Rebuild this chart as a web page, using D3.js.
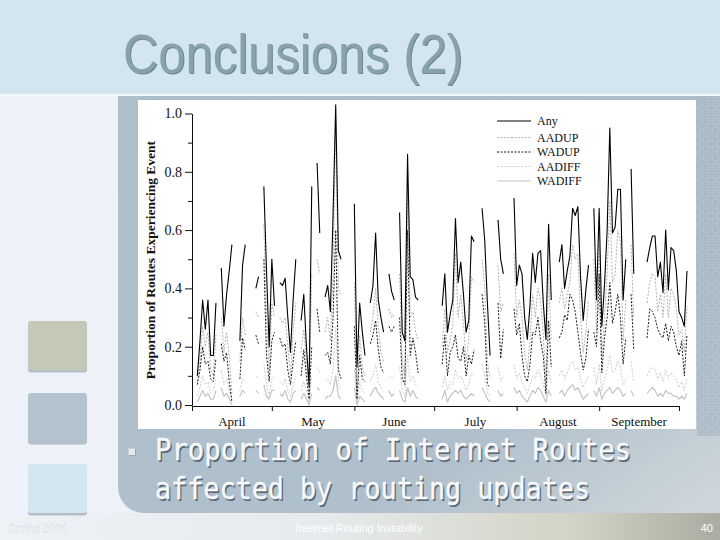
<!DOCTYPE html>
<html><head><meta charset="utf-8">
<script src="https://cdn.jsdelivr.net/npm/d3@7"></script>
<style>body{margin:0;background:#fff;} svg{display:block;}</style>
</head><body>
<script>
// ---------- data ----------
const titleText = "Conclusions (2)";
const bulletLines = ["Proportion of Internet Routes", "affected by routing updates"];
const footerLeft = "Spring 2006";
const footerCenter = "Internet Routing Instability";
const footerRight = "40";

const seriesNames = ["Any", "AADUP", "WADUP", "AADIFF", "WADIFF"];
const monthLabels = ["April", "May", "June", "July", "August", "September"];
const yMajorTicks = [0, 0.2, 0.4, 0.6, 0.8, 1.0];
const yMinorTicks = [0.1, 0.3, 0.5, 0.7, 0.9];
const yAxisTitle = "Proportion of Routes Experiencing Event";

// day offsets (from April 1) where each run of daily data starts
const segmentStart = [2, 11, 18, 24, 27, 33, 41, 47, 50, 61, 67, 74, 78, 94, 109, 115, 121, 138, 151, 165, 171];

const anyValues = [
  [0.10, 0.22, 0.36, 0.26, 0.36, 0.17, 0.17, 0.35],
  [0.47, 0.27, 0.38, 0.46, 0.55],
  [0.22, 0.48, 0.55],
  [0.40, 0.44],
  [0.75, 0.46, 0.20, 0.50, 0.34],
  [0.42, 0.41, 0.435, 0.30, 0.18, 0.36, 0.50],
  [0.29, 0.38, 0.20, 0.065, 0.75],
  [0.83, 0.59],
  [0.37, 0.41, 0.32, 0.65, 1.03, 0.53, 0.50],
  [0.69, 0.13, 0.35, 0.25, 0.17],
  [0.35, 0.41, 0.59, 0.36, 0.30, 0.25],
  [0.45, 0.39, 0.36],
  [0.66, 0.25, 0.22, 0.86, 0.44, 0.43, 0.37, 0.36],
  [0.34, 0.45, 0.25, 0.31, 0.36, 0.64, 0.42, 0.49, 0.38, 0.25, 0.29, 0.58, 0.56],
  [0.675, 0.565, 0.35, 0.17],
  [0.635, 0.50, 0.45],
  [0.71, 0.41, 0.48, 0.45, 0.30, 0.225, 0.34, 0.52, 0.42, 0.52, 0.53, 0.35, 0.225, 0.62, 0.36],
  [0.49, 0.55, 0.40, 0.46, 0.51, 0.675, 0.65, 0.68, 0.44, 0.29, 0.395, 0.48],
  [0.675, 0.36, 0.675, 0.27, 0.41, 0.60, 0.95, 0.59, 0.61, 0.74, 0.74, 0.36, 0.50],
  [0.81, 0.45],
  [0.49, 0.54, 0.58, 0.58, 0.44, 0.49, 0.385, 0.60, 0.395, 0.54, 0.53, 0.46, 0.32, 0.30, 0.27, 0.46]
];

const aadupValues = [
  [0.08, 0.15, 0.27, 0.20, 0.25, 0.12, 0.10, 0.24],
  [0.30, 0.18, 0.25, 0.17, 0.04],
  [0.15, 0.30, 0.24],
  [0.32, 0.30],
  [0.62, 0.30, 0.12, 0.35, 0.30],
  [0.30, 0.28, 0.30, 0.20, 0.10, 0.25, 0.35],
  [0.18, 0.26, 0.15, 0.04, 0.45],
  [0.50, 0.45],
  [0.25, 0.30, 0.22, 0.45, 0.98, 0.40, 0.38],
  [0.42, 0.05, 0.24, 0.13, 0.10],
  [0.25, 0.30, 0.40, 0.27, 0.18, 0.15],
  [0.33, 0.30, 0.31],
  [0.45, 0.15, 0.10, 0.75, 0.30, 0.32, 0.25, 0.22],
  [0.20, 0.33, 0.18, 0.22, 0.28, 0.52, 0.30, 0.38, 0.28, 0.15, 0.22, 0.44, 0.42],
  [0.50, 0.40, 0.15, 0.09],
  [0.48, 0.32, 0.35],
  [0.52, 0.30, 0.36, 0.30, 0.18, 0.12, 0.22, 0.38, 0.30, 0.40, 0.36, 0.24, 0.08, 0.45, 0.22],
  [0.35, 0.40, 0.33, 0.38, 0.42, 0.55, 0.50, 0.52, 0.30, 0.18, 0.25, 0.36],
  [0.50, 0.25, 0.55, 0.17, 0.30, 0.45, 0.70, 0.42, 0.45, 0.60, 0.56, 0.22, 0.36],
  [0.55, 0.30],
  [0.35, 0.42, 0.45, 0.44, 0.32, 0.38, 0.30, 0.45, 0.30, 0.40, 0.38, 0.33, 0.24, 0.26, 0.18, 0.34]
];

const wadupValues = [
  [0.07, 0.12, 0.20, 0.14, 0.15, 0.09, 0.08, 0.16],
  [0.21, 0.15, 0.18, 0.08, 0.01],
  [0.09, 0.23, 0.19],
  [0.24, 0.21],
  [0.50, 0.17, 0.08, 0.22, 0.25],
  [0.23, 0.20, 0.21, 0.12, 0.07, 0.15, 0.22],
  [0.10, 0.19, 0.10, 0.02, 0.20],
  [0.33, 0.25],
  [0.17, 0.18, 0.14, 0.30, 0.60, 0.12, 0.09],
  [0.27, 0.02, 0.17, 0.09, 0.08],
  [0.21, 0.24, 0.29, 0.19, 0.13, 0.11],
  [0.27, 0.25, 0.27],
  [0.30, 0.09, 0.07, 0.60, 0.17, 0.23, 0.18, 0.11],
  [0.14, 0.24, 0.10, 0.18, 0.20, 0.24, 0.16, 0.15, 0.20, 0.10, 0.17, 0.14, 0.19],
  [0.38, 0.28, 0.07, 0.06],
  [0.35, 0.16, 0.26],
  [0.33, 0.24, 0.28, 0.17, 0.10, 0.08, 0.14, 0.25, 0.24, 0.30, 0.22, 0.17, 0.04, 0.29, 0.13],
  [0.23, 0.25, 0.31, 0.29, 0.38, 0.36, 0.32, 0.25, 0.18, 0.12, 0.16, 0.26],
  [0.25, 0.20, 0.45, 0.11, 0.23, 0.30, 0.42, 0.28, 0.32, 0.38, 0.30, 0.14, 0.23],
  [0.38, 0.19],
  [0.23, 0.33, 0.32, 0.30, 0.26, 0.24, 0.23, 0.28, 0.22, 0.27, 0.25, 0.20, 0.17, 0.22, 0.10, 0.24]
];

const aadiffValues = [
  [0.03, 0.06, 0.10, 0.07, 0.08, 0.04, 0.05, 0.09],
  [0.12, 0.07, 0.09, 0.05, 0.02],
  [0.05, 0.09, 0.08],
  [0.10, 0.09],
  [0.14, 0.07, 0.03, 0.09, 0.10],
  [0.08, 0.07, 0.09, 0.05, 0.03, 0.07, 0.10],
  [0.05, 0.08, 0.05, 0.01, 0.10],
  [0.13, 0.11],
  [0.08, 0.09, 0.07, 0.12, 0.27, 0.07, 0.05],
  [0.12, 0.01, 0.08, 0.05, 0.04],
  [0.08, 0.10, 0.14, 0.08, 0.06, 0.05],
  [0.10, 0.09, 0.10],
  [0.13, 0.05, 0.03, 0.17, 0.08, 0.10, 0.07, 0.06],
  [0.06, 0.10, 0.05, 0.08, 0.07, 0.12, 0.09, 0.10, 0.08, 0.05, 0.07, 0.11, 0.10],
  [0.14, 0.10, 0.04, 0.03],
  [0.13, 0.08, 0.10],
  [0.14, 0.09, 0.11, 0.08, 0.06, 0.04, 0.07, 0.10, 0.09, 0.12, 0.10, 0.07, 0.03, 0.12, 0.07],
  [0.10, 0.12, 0.09, 0.11, 0.14, 0.15, 0.12, 0.13, 0.09, 0.06, 0.08, 0.10],
  [0.13, 0.07, 0.14, 0.05, 0.09, 0.12, 0.17, 0.11, 0.12, 0.15, 0.13, 0.07, 0.09],
  [0.15, 0.08],
  [0.10, 0.12, 0.13, 0.12, 0.09, 0.11, 0.08, 0.12, 0.09, 0.11, 0.10, 0.09, 0.06, 0.08, 0.05, 0.09]
];

const wadiffValues = [
  [0.01, 0.03, 0.05, 0.03, 0.04, 0.02, 0.02, 0.05],
  [0.06, 0.03, 0.04, 0.02, 0.00],
  [0.03, 0.05, 0.04],
  [0.05, 0.04],
  [0.07, 0.03, 0.02, 0.05, 0.05],
  [0.04, 0.03, 0.05, 0.02, 0.01, 0.04, 0.05],
  [0.02, 0.04, 0.02, 0.00, 0.04],
  [0.06, 0.05],
  [0.02, 0.03, 0.03, 0.05, 0.10, 0.03, 0.02],
  [0.06, 0.00, 0.03, 0.02, 0.01],
  [0.03, 0.05, 0.06, 0.04, 0.03, 0.02],
  [0.05, 0.03, 0.04],
  [0.05, 0.02, 0.01, 0.06, 0.03, 0.05, 0.03, 0.02],
  [0.02, 0.05, 0.01, 0.03, 0.04, 0.05, 0.04, 0.05, 0.03, 0.02, 0.03, 0.04, 0.03],
  [0.06, 0.04, 0.02, 0.01],
  [0.05, 0.03, 0.04],
  [0.06, 0.04, 0.05, 0.03, 0.02, 0.01, 0.03, 0.05, 0.04, 0.06, 0.05, 0.03, 0.01, 0.05, 0.03],
  [0.04, 0.05, 0.03, 0.05, 0.06, 0.07, 0.05, 0.06, 0.04, 0.02, 0.03, 0.04],
  [0.05, 0.03, 0.06, 0.02, 0.04, 0.05, 0.06, 0.04, 0.05, 0.06, 0.05, 0.03, 0.04],
  [0.05, 0.03],
  [0.04, 0.05, 0.06, 0.05, 0.03, 0.04, 0.03, 0.05, 0.04, 0.04, 0.03, 0.03, 0.02, 0.03, 0.02, 0.04]
];

// ---------- build ----------
const startDate = new Date(1996, 3, 1);
const endDate = new Date(1996, 9, 1);
const monthStarts = d3.range(0, 7).map(i => new Date(1996, 3 + i, 1));

function buildSeries(segments) {
  const n = 190;
  const arr = d3.range(n).map(d => ({date: d3.timeDay.offset(startDate, d), v: null}));
  segments.forEach((seg, k) => {
    seg.forEach((v, j) => { arr[segmentStart[k] + j].v = v; });
  });
  return arr;
}

const seriesData = {
  Any: buildSeries(anyValues),
  AADUP: buildSeries(aadupValues),
  WADUP: buildSeries(wadupValues),
  AADIFF: buildSeries(aadiffValues),
  WADIFF: buildSeries(wadiffValues)
};

const styles = {
  Any:    {stroke: "#000000", width: 1.1, dash: null},
  AADUP:  {stroke: "#b3b3b3", width: 1, dash: "2,1.5"},
  WADUP:  {stroke: "#1a1a1a", width: 1, dash: "2,1.5"},
  AADIFF: {stroke: "#cdcdcd", width: 1, dash: "2,1.5"},
  WADIFF: {stroke: "#c4c4c4", width: 1.2, dash: null}
};

const svg = d3.select("body").append("svg").attr("width", 720).attr("height", 540);
const defs = svg.append("defs");

const pg = defs.append("linearGradient").attr("id", "panelGrad").attr("x1", 0).attr("y1", 0).attr("x2", 1).attr("y2", 1);
pg.append("stop").attr("offset", "0%").attr("stop-color", "#aebfcc");
pg.append("stop").attr("offset", "70%").attr("stop-color", "#afbfcb");
pg.append("stop").attr("offset", "100%").attr("stop-color", "#cfd7dc");

const fg = defs.append("linearGradient").attr("id", "footGrad").attr("x1", 0).attr("y1", 0).attr("x2", 1).attr("y2", 0);
fg.append("stop").attr("offset", "0%").attr("stop-color", "#eef2f7");
fg.append("stop").attr("offset", "45%").attr("stop-color", "#e6eaec");
fg.append("stop").attr("offset", "80%").attr("stop-color", "#d2d3c4");
fg.append("stop").attr("offset", "100%").attr("stop-color", "#a9aca0");

const pat = defs.append("pattern").attr("id", "sq").attr("width", 9).attr("height", 9).attr("patternUnits", "userSpaceOnUse");
pat.append("rect").attr("width", 9).attr("height", 9).attr("fill", "#a8b9c5");
pat.append("rect").attr("x", 1.5).attr("y", 1.5).attr("width", 6).attr("height", 6).attr("rx", 1)
  .attr("fill", "none").attr("stroke", "#bac8d2").attr("stroke-width", 0.8);

// slide background
svg.append("rect").attr("width", 720).attr("height", 540).attr("fill", "#eef2f8");
svg.append("rect").attr("width", 720).attr("height", 94).attr("fill", "#d3e6ef");
svg.append("rect").attr("y", 94).attr("width", 720).attr("height", 2).attr("fill", "#f4f8fa");
svg.append("rect").attr("y", 513).attr("width", 720).attr("height", 27).attr("fill", "url(#footGrad)");
svg.append("path").attr("d", "M118,96 H720 V513 H144 A26,26 0 0 1 118,487 Z").attr("fill", "url(#panelGrad)");
svg.append("rect").attr("x", 697).attr("y", 96).attr("width", 23).attr("height", 340).attr("fill", "url(#sq)").attr("opacity", 0.8);
svg.append("rect").attr("x", 138).attr("y", 96).attr("width", 582).attr("height", 4).attr("fill", "url(#sq)").attr("opacity", 0.6);

// left squares
const squareColors = ["#c4c9b7", "#b4c4cf", "#d3e5ee"];
const squareTops = [321, 393, 464];
squareColors.forEach((c, i) => {
  svg.append("rect").attr("x", 28).attr("y", squareTops[i] + 1.5).attr("width", 59).attr("height", 50).attr("rx", 3).attr("fill", "#8e9ca6").attr("opacity", 0.6);
  svg.append("rect").attr("x", 28).attr("y", squareTops[i]).attr("width", 59).attr("height", 49).attr("rx", 3).attr("fill", c);
});

// title
svg.append("text").attr("x", 124).attr("y", 74).text(titleText)
  .attr("font-family", "'Liberation Sans Narrow','Liberation Sans',Arial,sans-serif").attr("font-size", 55)
  .attr("textLength", 340).attr("lengthAdjust", "spacingAndGlyphs").attr("fill", "#6c8790");
svg.append("text").attr("x", 123).attr("y", 73).text(titleText)
  .attr("font-family", "'Liberation Sans Narrow','Liberation Sans',Arial,sans-serif").attr("font-size", 55)
  .attr("textLength", 340).attr("lengthAdjust", "spacingAndGlyphs").attr("fill", "#88a2ab");

// chart white image
svg.append("rect").attr("x", 138).attr("y", 100).attr("width", 558).attr("height", 329).attr("fill", "#ffffff");

// scales
const x = d3.scaleTime().domain([startDate, endDate]).range([192, 679]);
const y = d3.scaleLinear().domain([0, 1]).range([405, 113.5]);

const serif = "'Liberation Serif','Times New Roman',serif";

// lines
const line = d3.line().defined(d => d.v !== null).x(d => x(d.date)).y(d => y(d.v));
const drawOrder = ["WADIFF", "AADIFF", "AADUP", "WADUP", "Any"];
const plot = svg.append("g");
drawOrder.forEach(name => {
  const st = styles[name];
  plot.append("path").datum(seriesData[name]).attr("d", line)
    .attr("fill", "none").attr("stroke", st.stroke).attr("stroke-width", st.width)
    .attr("stroke-dasharray", st.dash).attr("stroke-linejoin", "round");
});

// y axis
const yAxisG = svg.append("g").attr("transform", "translate(192,0)")
  .call(d3.axisLeft(y).tickValues(yMajorTicks).tickSize(7).tickSizeOuter(0).tickPadding(3).tickFormat(d3.format(".1f")));
yAxisG.selectAll("text").attr("font-family", serif).attr("font-size", 14).attr("fill", "#111");
yAxisG.selectAll("line,path").attr("stroke", "#111");
const yMinorG = svg.append("g").attr("transform", "translate(192,0)")
  .call(d3.axisLeft(y).tickValues(yMinorTicks).tickSize(4).tickFormat(""));
yMinorG.select(".domain").remove();
yMinorG.selectAll("line").attr("stroke", "#111");

// x axis
const xAxisG = svg.append("g").attr("transform", "translate(0,406)")
  .call(d3.axisBottom(x).tickValues(monthStarts).tickSize(5).tickSizeOuter(0).tickFormat(""));
xAxisG.selectAll("line,path").attr("stroke", "#111");
svg.append("line").attr("x1", 192).attr("x2", 192).attr("y1", 405).attr("y2", 406).attr("stroke", "#111");

monthLabels.forEach((m, i) => {
  svg.append("text").attr("x", (x(monthStarts[i]) + x(monthStarts[i + 1])) / 2).attr("y", 426)
    .attr("text-anchor", "middle").attr("font-family", serif).attr("font-size", 13).attr("fill", "#111").text(m);
});

svg.append("text").attr("transform", "translate(155,260) rotate(-90)").attr("text-anchor", "middle")
  .attr("font-family", serif).attr("font-size", 13.5).attr("font-weight", "bold").attr("fill", "#111").text(yAxisTitle);

// legend
const legendY = [121, 137.5, 152, 166.5, 181];
seriesNames.forEach((name, i) => {
  const st = styles[name];
  svg.append("line").attr("x1", 497).attr("x2", 531).attr("y1", legendY[i]).attr("y2", legendY[i])
    .attr("stroke", st.stroke).attr("stroke-width", st.width).attr("stroke-dasharray", st.dash);
  svg.append("text").attr("x", 537).attr("y", legendY[i]).attr("dy", "0.35em")
    .attr("font-family", serif).attr("font-size", 12).attr("fill", "#111").text(name);
});

// bullet + body text
svg.append("rect").attr("x", 129).attr("y", 449).attr("width", 6.5).attr("height", 6.5).attr("fill", "#7f8f9b");
svg.append("rect").attr("x", 128.5).attr("y", 448.5).attr("width", 6.5).attr("height", 6.5).attr("fill", "#e2e9ef");
const lineBase = [460, 499];
const lineWidths = [476, 435];
bulletLines.forEach((t, i) => {
  svg.append("text").attr("x", 156.5).attr("y", lineBase[i] + 1.5).text(t)
    .attr("font-family", "'DejaVu Sans Mono',monospace").attr("font-size", 30)
    .attr("textLength", lineWidths[i]).attr("lengthAdjust", "spacingAndGlyphs").attr("fill", "#5a6875");
  svg.append("text").attr("x", 155).attr("y", lineBase[i]).text(t)
    .attr("font-family", "'DejaVu Sans Mono',monospace").attr("font-size", 30)
    .attr("textLength", lineWidths[i]).attr("lengthAdjust", "spacingAndGlyphs").attr("fill", "#f6f8fa")
    .attr("stroke", "#f6f8fa").attr("stroke-width", 0.4);
});

// footer
const footFont = "'Liberation Sans',Arial,sans-serif";
svg.append("text").attr("x", 8).attr("y", 532).attr("font-family", footFont).attr("font-size", 11)
  .attr("fill", "#ffffff").attr("stroke", "#c9d0d8").attr("stroke-width", 0.3).text(footerLeft);
svg.append("text").attr("x", 359).attr("y", 532).attr("text-anchor", "middle").attr("font-family", footFont).attr("font-size", 11)
  .attr("fill", "#ffffff").text(footerCenter);
svg.append("text").attr("x", 713).attr("y", 532).attr("text-anchor", "end").attr("font-family", footFont).attr("font-size", 11)
  .attr("fill", "#ffffff").text(footerRight);
</script>
</body></html>
